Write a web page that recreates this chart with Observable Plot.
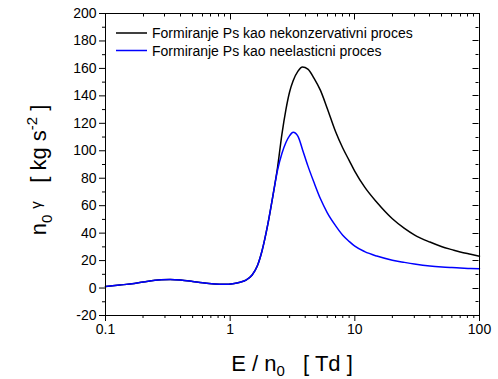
<!DOCTYPE html>
<html><head><meta charset="utf-8">
<script src="https://cdn.jsdelivr.net/npm/d3@7"></script>
<script src="https://cdn.jsdelivr.net/npm/@observablehq/plot@0.6"></script>
<style>body{margin:0;background:#fff} svg{display:block}</style>
</head><body><div id="chart"></div>
<script>
// E/n0 [Td]
const E = [0.1, 0.13, 0.17, 0.22, 0.28, 0.33, 0.4, 0.5, 0.6, 0.75, 0.9, 1.05, 1.2, 1.35, 1.5, 1.65, 1.8, 2.0, 2.2, 2.4, 2.6, 2.8, 3.0, 3.2, 3.5, 3.8, 4.2, 4.7, 5.3, 6, 7, 8, 9, 10, 12, 15, 20, 25, 30, 40, 50, 60, 70, 85, 100];
// n0*gamma, Ps formation as non-conservative process (black)
const gNekonz = [1.2, 2.2, 3.3, 5.0, 6.0, 6.3, 5.9, 4.8, 3.8, 3.0, 2.8, 3.2, 4.2, 6.0, 9.5, 16, 27, 46, 67, 88, 112, 130, 143, 151, 158, 161, 159.5, 153, 144, 131, 114, 102, 93, 85, 73.5, 62.5, 50.5, 43.5, 38.8, 33.5, 30.1, 28.0, 26.3, 24.6, 23.2];
// n0*gamma, Ps formation as inelastic process (blue)
const gNeelast = [1.2, 2.2, 3.3, 5.0, 6.0, 6.3, 5.9, 4.8, 3.8, 3.0, 2.8, 3.2, 4.2, 6.0, 9.5, 16, 27, 46, 67, 86, 98, 106, 111, 113.5, 110.5, 101, 89, 77, 65, 55, 45.5, 38.5, 34, 30.5, 26.5, 23.3, 20.3, 18.7, 17.5, 16.0, 15.3, 14.9, 14.6, 14.2, 14.0];

const seriesNames = ["Formiranje Ps kao nekonzervativni proces", "Formiranje Ps kao neelasticni proces"];
const seriesColors = ["#000000", "#0000ff"];

const xMajor = [0.1, 1, 10, 100];
const xTickLabels = ["0.1", "1", "10", "100"];
const xMinor = [0.2, 0.3, 0.4, 0.5, 0.6, 0.7, 0.8, 0.9, 2, 3, 4, 5, 6, 7, 8, 9, 20, 30, 40, 50, 60, 70, 80, 90];
const yMajor = [-20, 0, 20, 40, 60, 80, 100, 120, 140, 160, 180, 200];
const yMinor = [-10, 10, 30, 50, 70, 90, 110, 130, 150, 170, 190];

const rows = E.flatMap((e, i) => [
  {E: e, g: gNekonz[i], s: seriesNames[0]},
  {E: e, g: gNeelast[i], s: seriesNames[1]}
]);

const font = "Arial, 'Liberation Sans', sans-serif";
const blank = () => "";

const plot = Plot.plot({
  width: 498,
  height: 379,
  marginLeft: 105,
  marginRight: 19,
  marginTop: 13,
  marginBottom: 64,
  style: {fontFamily: font, fontSize: "14px", color: "#000", background: "#fff"},
  x: {type: "log", domain: [0.1, 100]},
  y: {domain: [-20, 200]},
  color: {domain: seriesNames, range: seriesColors},
  marks: [
    Plot.line(rows, {x: "E", y: "g", z: "s", stroke: "s", strokeWidth: 1.5, curve: "monotone-x"}),
    Plot.frame({stroke: "#000", strokeWidth: 1}),
    // bottom axis (outward)
    Plot.axisX(xMajor, {anchor: "bottom", tickSize: 6, tickPadding: 3, label: null, tickFormat: d => xTickLabels[xMajor.indexOf(d)]}),
    Plot.axisX(xMinor, {anchor: "bottom", tickSize: 3, label: null, tickFormat: blank}),
    // left axis (outward)
    Plot.axisY(yMajor, {anchor: "left", tickSize: 6, tickPadding: 3, label: null, tickFormat: d => String(d)}),
    Plot.axisY(yMinor, {anchor: "left", tickSize: 3, label: null, tickFormat: blank})
  ]
});

document.getElementById("chart").appendChild(plot);

const svg = d3.select(plot);
const xs = plot.scale("x"), ys = plot.scale("y");
const topY = Math.round(ys.apply(200)) + 0.5;
const rightX = Math.round(xs.apply(100)) - 0.5;

// inward ticks on top and right edges, placed with Plot's own scales
const inward = svg.append("g").attr("stroke", "#000").attr("stroke-width", 1);
[[xMajor, 6], [xMinor, 3]].forEach(([vals, len]) => vals.forEach(v => {
  const x = Math.round(xs.apply(v)) + 0.5;
  inward.append("line").attr("x1", x).attr("x2", x).attr("y1", topY).attr("y2", topY + len);
}));
[[yMajor, 6], [yMinor, 3]].forEach(([vals, len]) => vals.forEach(v => {
  const y = Math.round(ys.apply(v)) + 0.5;
  inward.append("line").attr("x1", rightX).attr("x2", rightX - len).attr("y1", y).attr("y2", y);
}));

// legend
const legend = svg.append("g").attr("font-family", font).attr("font-size", 14).attr("text-anchor", "start");
seriesNames.forEach((name, i) => {
  const y = 33 + i * 17.5;
  legend.append("line").attr("x1", 116).attr("x2", 147).attr("y1", y).attr("y2", y)
    .attr("stroke", seriesColors[i]).attr("stroke-width", 1.5);
  legend.append("text").attr("x", 152).attr("y", y + 5).attr("fill", "#000").text(name);
});

// x-axis title
const xt = svg.append("text").attr("x", 292).attr("y", 371).attr("text-anchor", "middle")
  .attr("font-family", font).attr("font-size", 22).attr("fill", "#000").style("white-space", "pre");
xt.append("tspan").text("E / n");
xt.append("tspan").attr("font-size", 15).attr("dy", 5).text("0");
xt.append("tspan").attr("dy", -5).text("   [ Td ]");

// y-axis title
const yt = svg.append("text").attr("transform", "translate(46,170) rotate(-90)").attr("text-anchor", "middle")
  .attr("font-family", font).attr("font-size", 22).attr("fill", "#000").style("white-space", "pre");
yt.append("tspan").text("n");
yt.append("tspan").attr("font-size", 15).attr("dy", 6).text("0");
yt.append("tspan").attr("dy", -6).text(" ");
yt.append("tspan").attr("font-size", 15).attr("dy", -5).text("γ");
yt.append("tspan").attr("dy", 5).text("   [ kg s");
yt.append("tspan").attr("font-size", 15).attr("dy", -9).text("-2");
yt.append("tspan").attr("dy", 9).text(" ]");
</script>
</body></html>
